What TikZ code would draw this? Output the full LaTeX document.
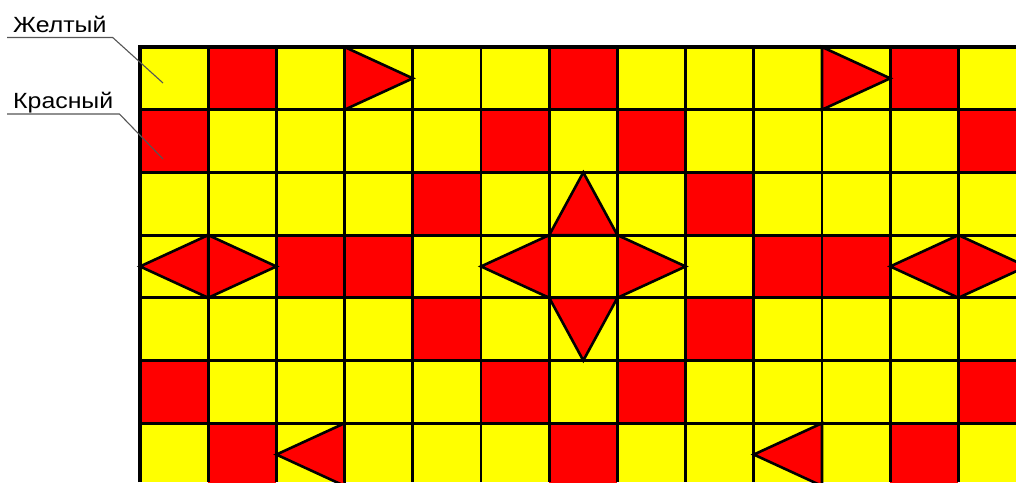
\documentclass[tikz,border=0pt]{standalone}
\usepackage{fontspec}
\setmainfont{Liberation Sans}
\newfontfamily\labelfont[FakeStretch=1.13]{Liberation Sans}
\usepackage{xcolor}
\usetikzlibrary{positioning}
\definecolor{cellyellow}{RGB}{255,255,0}
\definecolor{cellred}{RGB}{255,0,0}
\definecolor{leadergray}{RGB}{85,85,85}

\begin{document}
\begin{tikzpicture}[x=1pt, y=-1pt,
		tri/.style={fill=cellred, draw=black, line width=2.6pt, line join=miter},
		gridline/.style={draw=black, line width=2.8pt},
		leader/.style={draw=leadergray, line width=1.1pt},
		lbl/.style={font=\labelfont\fontsize{22}{22}\selectfont, anchor=south west, inner xsep=6pt, inner ysep=5pt, text depth=0pt}]
	\useasboundingbox (0,0) rectangle (1016,482);
	\clip (0,0) rectangle (1016,482);
	\def\cw{68.2}
	\def\ch{62.7}
	% background and red squares
	\fill[cellyellow] (140,47) rectangle (1016,482);
	\foreach \r/\c in {0/1,0/6,0/11, 1/0,1/5,1/7,1/12, 2/4,2/8, 3/2,3/3,3/9,3/10, 4/4,4/8, 5/0,5/5,5/7,5/12, 6/1,6/6,6/11}
		\fill[cellred] ({140+\c*\cw},{47+\r*\ch}) rectangle +(\cw,\ch);
	% triangles pointing right
	\foreach \r/\c in {0/3,0/10,3/1,3/7,3/12}
		\draw[tri] ({140+\c*\cw},{47+\r*\ch}) -- ++(0,\ch) -- ++(\cw,-\ch/2) -- cycle;
	% triangles pointing left
	\foreach \r/\c in {3/0,3/5,3/11,6/2,6/9}
		\draw[tri] ({140+(\c+1)*\cw},{47+\r*\ch}) -- ++(0,\ch) -- ++(-\cw,-\ch/2) -- cycle;
	% triangles up and down
	\draw[tri] ({140+6*\cw},{47+3*\ch}) -- ++(\cw,0) -- ++(-\cw/2,-\ch) -- cycle;
	\draw[tri] ({140+6*\cw},{47+4*\ch}) -- ++(\cw,0) -- ++(-\cw/2,\ch) -- cycle;
	% grid
	\foreach \c in {1,...,12}
		\draw[gridline] ({140+\c*\cw},47) -- ({140+\c*\cw},482);
	\foreach \r in {1,...,7}
		\draw[gridline] (140,{47+\r*\ch}) -- (1016,{47+\r*\ch});
	\draw[draw=black, line width=4pt] (140,482) -- (140,47) -- (1016,47);
	% labels
	\node[lbl] (yellow) at (7,37.5) {Желтый};
	\node[lbl] (red) at (7,114) {Красный};
	\coordinate (yellowtip) at (163,83);
	\coordinate (redtip) at (163,159);
	\draw[leader] (yellow.south west) -- (yellow.south east) -- (yellowtip);
	\draw[leader] (red.south west) -- (red.south east) -- (redtip);
\end{tikzpicture}
\end{document}
